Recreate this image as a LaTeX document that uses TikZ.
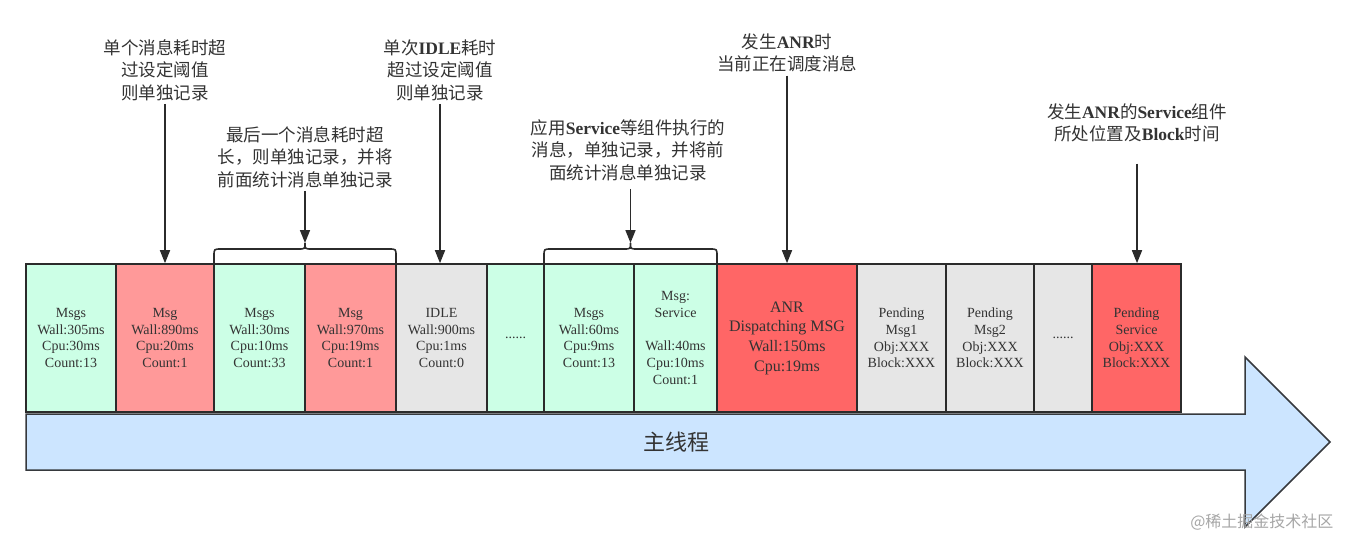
\documentclass[tikz,border=0pt]{standalone}
\usepackage{fontspec}
\setmainfont{Liberation Serif}
\newfontfamily\cjk{Noto Sans CJK SC}
\usetikzlibrary{arrows.meta}
\definecolor{mint}{HTML}{CCFFE6}
\definecolor{pinkc}{HTML}{FF9999}
\definecolor{grayc}{HTML}{E6E6E6}
\definecolor{redc}{HTML}{FF6666}
\definecolor{bluec}{HTML}{CCE5FF}
\definecolor{edge}{HTML}{2B2B2B}
\definecolor{txt}{HTML}{333333}
\definecolor{arrowedge}{HTML}{36393D}
\newcommand\bl[1]{{\rmfamily\bfseries #1}}
\begin{document}
\begin{tikzpicture}[x=1pt,y=-1pt,
  box/.style={draw=edge, line width=1.6pt, minimum height=148pt, inner sep=0pt,
    align=center, font=\fontsize{14}{16.7}\selectfont, text=txt},
  note/.style={align=center, inner sep=3pt, text=txt,
    font=\cjk\fontsize{17.5}{22.5}\selectfont},
  pointer/.style={draw=edge, line width=1.6pt, -{Triangle[width=10pt,length=13pt]}},
  brace/.style={draw=edge, line width=1.6pt}]
\useasboundingbox (0,0) rectangle (1352,550);
% main thread arrow
\draw[fill=bluec, draw=arrowedge, line width=1.5pt]
  (26,414) -- (1245,414) -- (1245,357) -- (1330,442) -- (1245,527) -- (1245,470) -- (26,470) -- cycle;
\node[text=txt, font=\cjk\fontsize{22}{26}\selectfont] (main) at (676,442) {主线程};
% boxes
\node[box, fill=mint, minimum width=90pt] (b1) at (71,338) {Msgs\\Wall:305ms\\Cpu:30ms\\Count:13};
\node[box, fill=pinkc, minimum width=98pt] (b2) at (165,338) {Msg\\Wall:890ms\\Cpu:20ms\\Count:1};
\node[box, fill=mint, minimum width=91pt] (b3) at (259.5,338) {Msgs\\Wall:30ms\\Cpu:10ms\\Count:33};
\node[box, fill=pinkc, minimum width=91pt] (b4) at (350.5,338) {Msg\\Wall:970ms\\Cpu:19ms\\Count:1};
\node[box, fill=grayc, minimum width=91pt] (b5) at (441.5,338) {IDLE\\Wall:900ms\\Cpu:1ms\\Count:0};
\node[box, fill=mint, minimum width=57pt] (b6) at (515.5,338) {......};
\node[box, fill=mint, minimum width=90pt] (b7) at (589,338) {Msgs\\Wall:60ms\\Cpu:9ms\\Count:13};
\node[box, fill=mint, minimum width=83pt] (b8) at (675.5,338) {Msg:\\Service\\[16.7pt]Wall:40ms\\Cpu:10ms\\Count:1};
\node[box, fill=redc, minimum width=140pt, font=\fontsize{16}{19.7}\selectfont] (b9) at (787,338) {ANR\\Dispatching MSG\\Wall:150ms\\Cpu:19ms};
\node[box, fill=grayc, minimum width=89pt] (b10) at (901.5,338) {Pending\\Msg1\\Obj:XXX\\Block:XXX};
\node[box, fill=grayc, minimum width=88pt] (b11) at (990,338) {Pending\\Msg2\\Obj:XXX\\Block:XXX};
\node[box, fill=grayc, minimum width=58pt] (b12) at (1063,338) {......};
\node[box, fill=redc, minimum width=89pt] (b13) at (1136.5,338) {Pending\\Service\\Obj:XXX\\Block:XXX};
% braces
\draw[brace] (214,263) -- (214,256) .. controls (214,249) .. (221,249) -- (298,249)
  .. controls (305,249) .. (305,243) .. controls (305,249) .. (312,249) -- (389,249)
  .. controls (396,249) .. (396,256) -- (396,263);
\draw[brace] (544,263) -- (544,256) .. controls (544,249) .. (551,249) -- (623.5,249)
  .. controls (630.5,249) .. (630.5,243) .. controls (630.5,249) .. (637.5,249) -- (710,249)
  .. controls (717,249) .. (717,256) -- (717,263);
\coordinate (t1) at (305,243);
\coordinate (t2) at (630.5,243);
% notes
\node[note] (a1) at (165,70) {单个消息耗时超\\过设定阈值\\则单独记录};
\node[note] (a2) at (440,70) {单次\bl{IDLE}耗时\\超过设定阈值\\则单独记录};
\node[note] (a3) at (305,157) {最后一个消息耗时超\\长，则单独记录，并将\\前面统计消息单独记录};
\node[note] (a4) at (628,150) {应用\bl{Service}等组件执行的\\消息，单独记录，并将前\\面统计消息单独记录};
\node[note] (a5) at (787,53) {发生\bl{ANR}时\\当前正在调度消息};
\node[note] (a6) at (1137,123) {发生\bl{ANR}的\bl{Service}组件\\所处位置及\bl{Block}时间};
% pointers
\draw[pointer] (a1.south) -- (b2.north);
\draw[pointer] (a2.south) -- (a2.south |- b5.north);
\draw[pointer] (a3.south) -- (t1);
\draw[pointer] ([yshift=-5pt]a4.south -| t2) -- (t2);
\draw[pointer] (a5.south) -- (b9.north);
\draw[pointer] ([yshift=-18pt]a6.south) -- (a6.south |- b13.north);
% watermark
\node[anchor=east, text=gray!70, font=\cjk\fontsize{16}{18}\selectfont] (wm) at (1337,522) {@稀土掘金技术社区};
\end{tikzpicture}
\end{document}
